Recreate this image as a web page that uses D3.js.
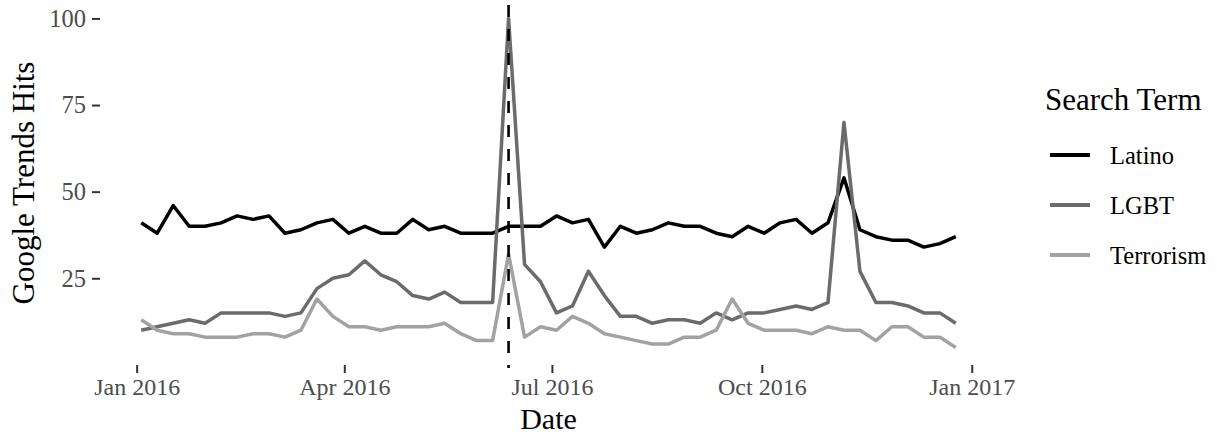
<!DOCTYPE html>
<html>
<head>
<meta charset="utf-8">
<script src="https://cdn.jsdelivr.net/npm/d3@7/dist/d3.min.js"></script>
<style>
  html, body { margin: 0; padding: 0; background: #fff; }
  svg { display: block; font-family: "Liberation Serif", "Times New Roman", serif; }
</style>
</head>
<body>
<svg id="chart" width="1217" height="436"></svg>
<script>
// ---- data ----
const startDate = "2016-01-03"; // first weekly observation (Sunday)
const seriesNames = ["Latino", "LGBT", "Terrorism"];
const latino = [41,38,46,40,40,41,43,42,43,38,39,41,42,38,40,38,38,42,39,40,38,38,38,40,40,40,43,41,42,34,40,38,39,41,40,40,38,37,40,38,41,42,38,41,54,39,37,36,36,34,35,37];
const lgbt = [10,11,12,13,12,15,15,15,15,14,15,22,25,26,30,26,24,20,19,21,18,18,18,100,29,24,15,17,27,20,14,14,12,13,13,12,15,13,15,15,16,17,16,18,70,27,18,18,17,15,15,12];
const terrorism = [13,10,9,9,8,8,8,9,9,8,10,19,14,11,11,10,11,11,11,12,9,7,7,32,8,11,10,14,12,9,8,7,6,6,8,8,10,19,12,10,10,10,9,11,10,10,7,11,11,8,8,5];
const eventDate = "2016-06-12";
const yTicks = [25, 50, 75, 100];
const xTickDates = ["2016-01-01", "2016-04-01", "2016-07-01", "2016-10-01", "2017-01-01"];
const colors = ["#000000", "#6b6b6b", "#a2a2a2"];

// ---- build ----
const parse = d3.utcParse("%Y-%m-%d");
const d0 = parse(startDate);
const dates = latino.map((_, i) => d3.utcDay.offset(d0, i * 7));
const allSeries = [latino, lgbt, terrorism].map((vals, k) => ({
  name: seriesNames[k],
  color: colors[k],
  values: vals.map((v, i) => ({ date: dates[i], value: v }))
}));

const svg = d3.select("#chart");
const panel = { left: 100.5, right: 996.5, top: 2, bottom: 364 };

const dMin = dates[0], dMax = dates[dates.length - 1];
const span = dMax - dMin;
const x = d3.scaleUtc()
  .domain([new Date(+dMin - span * 0.05), new Date(+dMax + span * 0.05)])
  .range([panel.left, panel.right]);

const allVals = [].concat(latino, lgbt, terrorism);
const vMin = d3.min(allVals), vMax = d3.max(allVals);
const vSpan = vMax - vMin;
const y = d3.scaleLinear()
  .domain([vMin - vSpan * 0.05, vMax + vSpan * 0.05])
  .range([panel.bottom, panel.top]);

// axes
const xAxis = d3.axisBottom(x)
  .tickValues(xTickDates.map(parse))
  .tickFormat(d3.utcFormat("%b %Y"))
  .tickSize(8).tickPadding(5);
const gx = svg.append("g").attr("transform", `translate(0,${panel.bottom + 1})`).call(xAxis);
gx.select(".domain").remove();
gx.selectAll(".tick line").attr("stroke", "#333333").attr("stroke-width", 2);
gx.selectAll(".tick text").attr("fill", "#4d4d4d").attr("font-size", 24)
  .attr("font-family", "Liberation Serif");

const yAxis = d3.axisLeft(y).tickValues(yTicks).tickSize(8).tickPadding(6);
const gy = svg.append("g").attr("transform", `translate(${panel.left - 0.5},0)`).call(yAxis);
gy.select(".domain").remove();
gy.selectAll(".tick line").attr("stroke", "#333333").attr("stroke-width", 2);
gy.selectAll(".tick text").attr("fill", "#4d4d4d").attr("font-size", 24.5)
  .attr("font-family", "Liberation Serif");

// lines
const line = d3.line().x(d => x(d.date)).y(d => y(d.value));
svg.append("g").selectAll("path").data(allSeries).join("path")
  .attr("d", d => line(d.values))
  .attr("fill", "none")
  .attr("stroke", d => d.color)
  .attr("stroke-width", 3.5)
  .attr("stroke-linejoin", "round")
  .attr("stroke-linecap", "butt");

// event vline
const ex = x(parse(eventDate));
svg.append("line")
  .attr("x1", ex).attr("x2", ex)
  .attr("y1", panel.top + 3).attr("y2", panel.bottom + 4)
  .attr("stroke", "#000").attr("stroke-width", 2.6)
  .attr("stroke-dasharray", "12,12");

// axis titles
svg.append("text")
  .attr("x", (panel.left + panel.right) / 2).attr("y", 429)
  .attr("text-anchor", "middle").attr("font-size", 30).attr("fill", "#000")
  .text("Date");
svg.append("text")
  .attr("transform", `translate(34,${(panel.top + panel.bottom) / 2}) rotate(-90)`)
  .attr("text-anchor", "middle").attr("font-size", 31).attr("fill", "#000")
  .text("Google Trends Hits");

// legend
const lg = svg.append("g");
lg.append("text").attr("x", 1045).attr("y", 110).attr("font-size", 31).attr("fill", "#000")
  .text("Search Term");
const items = lg.selectAll("g.item").data(allSeries).join("g")
  .attr("class", "item")
  .attr("transform", (d, i) => `translate(0,${155 + i * 50})`);
items.append("line").attr("x1", 1050).attr("x2", 1090).attr("y1", 0).attr("y2", 0)
  .attr("stroke", d => d.color).attr("stroke-width", 4);
items.append("text").attr("x", 1110).attr("y", 8.5).attr("font-size", 24.5).attr("fill", "#000")
  .text(d => d.name);
</script>
</body>
</html>
